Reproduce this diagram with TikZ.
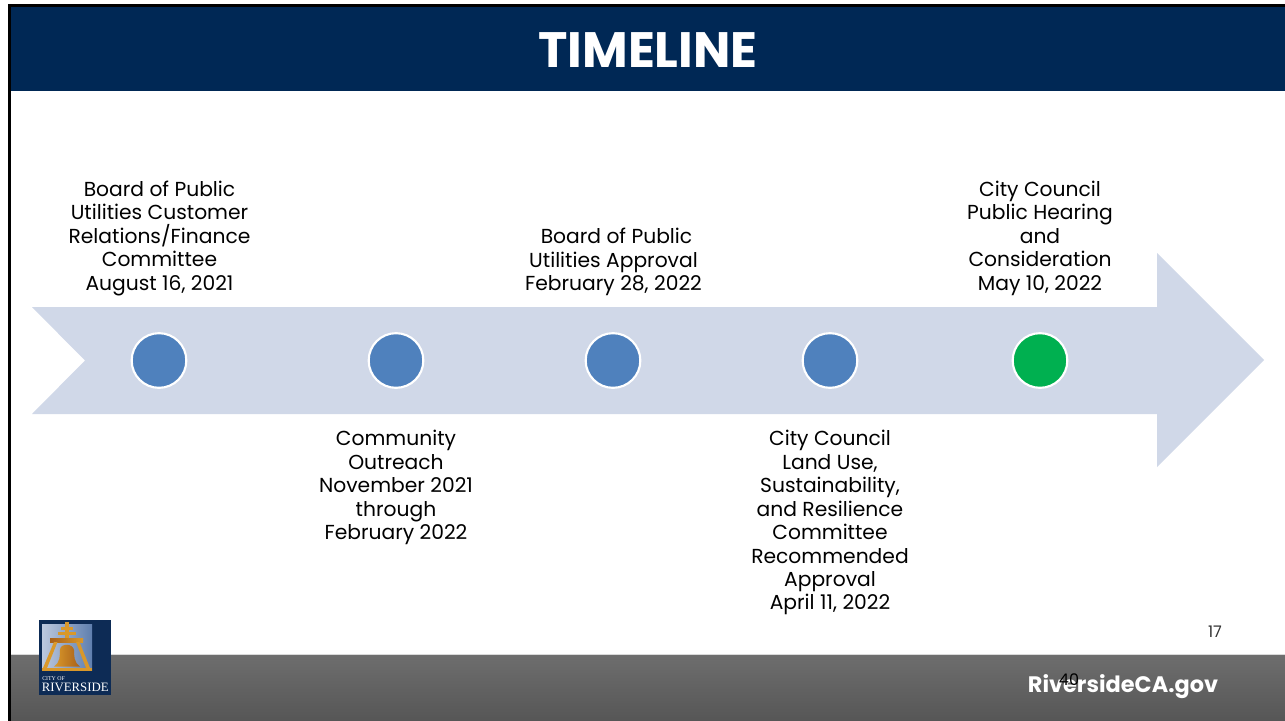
\documentclass[tikz,border=0pt]{standalone}
\usepackage{fontspec}
\setmainfont{Poppins}
\newfontfamily\logofont{Liberation Serif}
\definecolor{navy}{HTML}{002855}
\definecolor{band}{HTML}{D0D8E8}
\definecolor{dotblue}{HTML}{4F81BD}
\definecolor{dotgreen}{HTML}{00B050}
\definecolor{logonavy}{HTML}{0D2B55}
\definecolor{gold}{HTML}{D9982A}
\definecolor{bronze}{HTML}{A8601A}
\definecolor{foottop}{HTML}{6E6E6E}
\definecolor{footbot}{HTML}{565656}
\definecolor{skyL}{HTML}{BCC8DE}
\definecolor{skyR}{HTML}{5F7FAE}
\tikzset{
 x=0.75pt,y=-0.75pt,
 stage/.style={circle,draw=white,line width=1.6pt,fill=dotblue,minimum size=41pt,inner sep=0pt},
 msgtext/.style={align=center,font=\fontsize{15.2pt}{17.6pt}\selectfont,text=black,inner sep=0pt},
}
\begin{document}
\begin{tikzpicture}
\useasboundingbox (0,0) rectangle (1285,721);
\fill[white] (0,0) rectangle (1285,721);
% footer
\shade[top color=foottop,bottom color=footbot] (10,654) rectangle (1285,721);
\draw[black!15,line width=0.6pt] (10,654) -- (1285,654);
% header
\fill[navy] (10,7) rectangle (1285,91);
\fill[black] (8,4) rectangle (1285,7);
\fill[black] (8,4) rectangle (10.5,721);
\node[font=\fontsize{37.3pt}{44pt}\selectfont\bfseries,text=white,inner sep=0pt] (title) at (648,50) {TIMELINE};
% arrow
\fill[band] (32,307) -- (1157,307) -- (1157,253) -- (1264,360) -- (1157,467) -- (1157,414) -- (32,414) -- (85,360.5) -- cycle;
% stages
\node[stage] (s1) at (159,360.5) {};
\node[stage] (s2) at (396,360.5) {};
\node[stage] (s3) at (613,360.5) {};
\node[stage] (s4) at (830,360.5) {};
\node[stage,fill=dotgreen] (s5) at (1040,360.5) {};
% labels
\node[msgtext,anchor=south] (l1) at (159.5,296) {Board of Public\\Utilities Customer\\Relations/Finance\\Committee\\August 16, 2021};
\node[msgtext,anchor=north] (l2) at (396,430) {Community\\Outreach\\November 2021\\through\\February 2022};
\node[msgtext,anchor=south] (l3) at (613.5,296) {\hspace*{4.5pt}Board of Public\\Utilities Approval\\February 28, 2022};
\node[msgtext,anchor=north] (l4) at (830,430) {City Council\\Land Use,\\Sustainability,\\and Resilience\\Committee\\Recommended\\Approval\\April 11, 2022};
\node[msgtext,anchor=south] (l5) at (1040,295.5) {City Council\\Public Hearing\\and\\Consideration\\May 10, 2022};
% logo
\fill[logonavy] (39,620) rectangle (111,695);
\shade[left color=skyL,right color=skyR] (42,624) rectangle (92,670);
\fill[gold] (65,622) rectangle (69,642);
\fill[gold] (61,627) rectangle (73,629.5);
\fill[gold] (58,632) rectangle (76,635);
\shade[left color=bronze,right color=gold] (50,638) rectangle (83,642);
\fill[gold] (54,642) -- (57.5,642) -- (47,668) -- (43,668) -- cycle;
\fill[gold] (76,642) -- (79.5,642) -- (90,668) -- (86,668) -- cycle;
\shade[left color=gold,right color=bronze] (54,666.5) .. controls (60,663) and (60,655) .. (60,650) .. controls (60,643) and (73,643) .. (74,650) .. controls (74,655) and (74,663) .. (80,666.5) -- cycle;
\fill[gold] (42,668) rectangle (92,671);
\node[font=\logofont\fontsize{4.4pt}{5pt}\selectfont,text=white,anchor=west,inner sep=0pt] (cityof) at (42,678.5) {CITY OF};
\node[font=\logofont\fontsize{9.6pt}{10pt}\selectfont,text=white,anchor=west,inner sep=0pt] (riv) at (41.5,687.5) {RIVERSIDE};
% footer texts
\node[font=\fontsize{16.8pt}{20pt}\selectfont\bfseries,text=white,inner sep=0pt] (web) at (1123,686.5) {RiversideCA.gov};
\node[font=\fontsize{12pt}{14pt}\selectfont,text=black,inner sep=0pt] (n40) at (1069,680) {40};
\node[font=\fontsize{12pt}{14pt}\selectfont,text=black!80,inner sep=0pt] (n17) at (1215,632) {17};
\end{tikzpicture}
\end{document}
